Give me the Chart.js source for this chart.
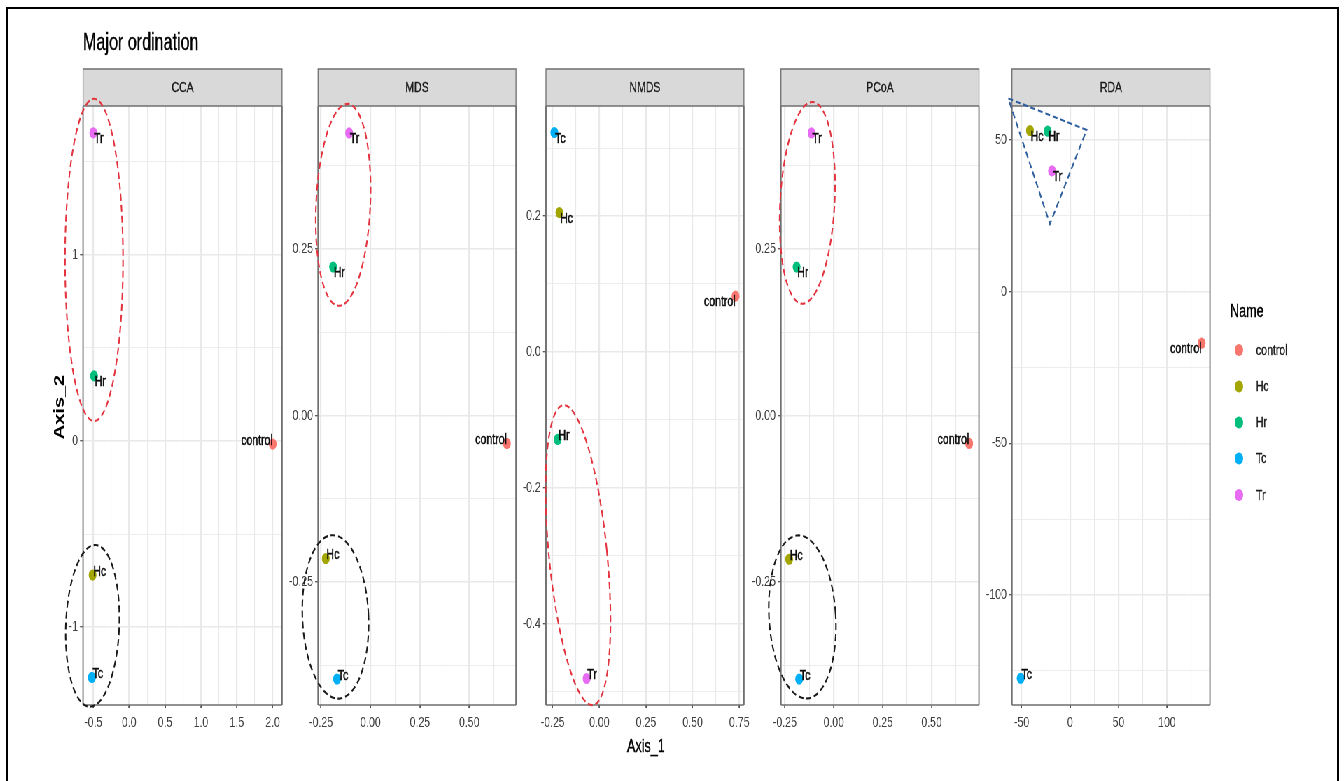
<!DOCTYPE html>
<html>
<head>
<meta charset="utf-8">
<title>Major ordination</title>
<script src="https://cdn.jsdelivr.net/npm/chart.js@4.4.1/dist/chart.umd.min.js"></script>
<style>
  html, body { margin: 0; padding: 0; background: #fff; overflow: hidden; width: 1344px; height: 781px; }
  #page { position: absolute; left: 0; top: 0; width: 1920px; height: 781px; transform: scaleX(0.7); transform-origin: 0 0; }
  #page canvas { position: absolute; left: 0; top: 0; }
  #frame { position: absolute; left: 6px; top: 7px; width: 1333px; height: 820px; border: 2.5px solid #000; box-sizing: border-box; pointer-events: none; }
</style>
</head>
<body>
<div id="page"></div>
<div id="frame"></div>
<script>
// ---- sample groups ----
const NAMES  = ['control', 'Hc', 'Hr', 'Tc', 'Tr'];
const COLORS = ['#F8766D', '#A3A500', '#00BF7D', '#00B0F6', '#E76BF3'];
const METHODS = ['CCA', 'MDS', 'NMDS', 'PCoA', 'RDA'];

// ---- ordination scores (Axis_1, Axis_2), in NAMES order ----
const ccaX  = [2.00, -0.51, -0.49, -0.52, -0.50];
const ccaY  = [-0.016, -0.72, 0.35, -1.27, 1.656];
const mdsX  = [0.69, -0.226, -0.189, -0.169, -0.108];
const mdsY  = [-0.042, -0.215, 0.223, -0.396, 0.4245];
const nmdsX = [0.73, -0.214, -0.223, -0.241, -0.068];
const nmdsY = [0.082, 0.205, -0.129, 0.323, -0.481];
const pcoaX = [0.692, -0.228, -0.19, -0.177, -0.1135];
const pcoaY = [-0.042, -0.216, 0.223, -0.396, 0.4245];
const rdaX  = [135.8, -41.4, -23.1, -51.0, -18.6];
const rdaY  = [-17.0, 53.1, 52.9, -127.5, 39.8];

// ---- axis limits ----
const ccaXLim  = [-0.643, 2.13],  ccaYLim  = [-1.418, 1.80];
const mdsXLim  = [-0.265, 0.736], mdsYLim  = [-0.435, 0.465];
const nmdsXLim = [-0.286, 0.775], nmdsYLim = [-0.52, 0.362];
const pcoaXLim = [-0.27, 0.742],  pcoaYLim = [-0.435, 0.465];
const rdaXLim  = [-60, 144.4],    rdaYLim  = [-136.3, 61.2];

// ---- breaks and tick labels ----
const ccaXTicks  = [-0.5, 0, 0.5, 1, 1.5, 2];
const ccaXLabels = ['-0.5', '0.0', '0.5', '1.0', '1.5', '2.0'];
const ccaXMinor  = [-0.25, 0.25, 0.75, 1.25, 1.75];
const ccaYTicks  = [-1, 0, 1];
const ccaYLabels = ['-1', '0', '1'];
const ccaYMinor  = [-0.5, 0.5, 1.5];

const mdsXTicks  = [-0.25, 0, 0.25, 0.5];
const mdsXLabels = ['-0.25', '0.00', '0.25', '0.50'];
const mdsXMinor  = [-0.125, 0.125, 0.375, 0.625];
const mdsYTicks  = [-0.25, 0, 0.25];
const mdsYLabels = ['-0.25', '0.00', '0.25'];
const mdsYMinor  = [-0.375, -0.125, 0.125, 0.375];

const nmdsXTicks  = [-0.25, 0, 0.25, 0.5, 0.75];
const nmdsXLabels = ['-0.25', '0.00', '0.25', '0.50', '0.75'];
const nmdsXMinor  = [-0.125, 0.125, 0.375, 0.625];
const nmdsYTicks  = [-0.4, -0.2, 0, 0.2];
const nmdsYLabels = ['-0.4', '-0.2', '0.0', '0.2'];
const nmdsYMinor  = [-0.5, -0.3, -0.1, 0.1, 0.3];

const pcoaXTicks  = [-0.25, 0, 0.25, 0.5];
const pcoaXLabels = ['-0.25', '0.00', '0.25', '0.50'];
const pcoaXMinor  = [-0.125, 0.125, 0.375, 0.625];
const pcoaYTicks  = [-0.25, 0, 0.25];
const pcoaYLabels = ['-0.25', '0.00', '0.25'];
const pcoaYMinor  = [-0.375, -0.125, 0.125, 0.375];

const rdaXTicks  = [-50, 0, 50, 100];
const rdaXLabels = ['-50', '0', '50', '100'];
const rdaXMinor  = [-25, 25, 75, 125];
const rdaYTicks  = [-100, -50, 0, 50];
const rdaYLabels = ['-100', '-50', '0', '50'];
const rdaYMinor  = [-125, -75, -25, 25];

// ---- text placement of the point labels: [horizontal side, vertical side] ----
const labelSide = {
  CCA:  { control: ['right', 'above'], Hc: ['left', 'above'], Hr: ['left', 'below'], Tc: ['left', 'above'], Tr: ['left', 'below'] },
  MDS:  { control: ['right', 'above'], Hc: ['left', 'above'], Hr: ['left', 'below'], Tc: ['left', 'above'], Tr: ['left', 'below'] },
  NMDS: { control: ['right', 'below'], Hc: ['left', 'below'], Hr: ['left', 'above'], Tc: ['left', 'below'], Tr: ['left', 'above'] },
  PCoA: { control: ['right', 'above'], Hc: ['left', 'above'], Hr: ['left', 'below'], Tc: ['left', 'above'], Tr: ['left', 'below'] },
  RDA:  { control: ['right', 'below'], Hc: ['left', 'below'], Hr: ['left', 'below'], Tc: ['left', 'above'], Tr: ['left', 'below'] }
};

// ---- dashed group outlines, in data units of each panel ----
const RED = '#e3343f', BLACK = '#1a1a1a', BLUE = '#2f5f9e';
const groupOutlines = {
  CCA: [
    { kind: 'ellipse', cx: -0.49, cy: 0.973, rx: 0.404, ry: 0.866, rot: 0, color: RED },
    { kind: 'ellipse', cx: -0.511, cy: -0.993, rx: 0.372, ry: 0.435, rot: 3.4, color: BLACK }
  ],
  MDS: [
    { kind: 'ellipse', cx: -0.138, cy: 0.3165, rx: 0.137, ry: 0.152, rot: 4, color: RED },
    { kind: 'ellipse', cx: -0.177, cy: -0.3027, rx: 0.167, ry: 0.123, rot: -4.2, color: BLACK }
  ],
  NMDS: [
    { kind: 'ellipse', cx: -0.114, cy: -0.2994, rx: 0.155, ry: 0.223, rot: -8.3, color: RED }
  ],
  PCoA: [
    { kind: 'ellipse', cx: -0.135, cy: 0.3195, rx: 0.139, ry: 0.152, rot: 4.7, color: RED },
    { kind: 'ellipse', cx: -0.1605, cy: -0.3027, rx: 0.170, ry: 0.123, rot: -5.8, color: BLACK }
  ],
  RDA: [
    { kind: 'polygon', pts: [[-63.8, 63.7], [17.1, 53.3], [-20.8, 22.3]], color: BLUE }
  ]
};

// ---- page layout (screen px; drawing surface is squeezed horizontally by SQ) ----
const SQ = 0.7, LW = 1344 / SQ, H = 781;
const FONT = '"Liberation Sans", Arial, Helvetica, sans-serif';
const PANEL_LEFT  = [83, 318, 546, 781, 1012];
const PANEL_RIGHT = [282, 516, 744, 979, 1210];
const PANEL_TOP = 106, PANEL_BOTTOM = 705, STRIP_TOP = 69;
const Y_W = 60, X_H = 30;

const panels = [
  { name: 'CCA',  x: ccaX,  y: ccaY,  xLim: ccaXLim,  yLim: ccaYLim,  xt: ccaXTicks,  xl: ccaXLabels,  xm: ccaXMinor,  yt: ccaYTicks,  yl: ccaYLabels,  ym: ccaYMinor },
  { name: 'MDS',  x: mdsX,  y: mdsY,  xLim: mdsXLim,  yLim: mdsYLim,  xt: mdsXTicks,  xl: mdsXLabels,  xm: mdsXMinor,  yt: mdsYTicks,  yl: mdsYLabels,  ym: mdsYMinor },
  { name: 'NMDS', x: nmdsX, y: nmdsY, xLim: nmdsXLim, yLim: nmdsYLim, xt: nmdsXTicks, xl: nmdsXLabels, xm: nmdsXMinor, yt: nmdsYTicks, yl: nmdsYLabels, ym: nmdsYMinor },
  { name: 'PCoA', x: pcoaX, y: pcoaY, xLim: pcoaXLim, yLim: pcoaYLim, xt: pcoaXTicks, xl: pcoaXLabels, xm: pcoaXMinor, yt: pcoaYTicks, yl: pcoaYLabels, ym: pcoaYMinor },
  { name: 'RDA',  x: rdaX,  y: rdaY,  xLim: rdaXLim,  yLim: rdaYLim,  xt: rdaXTicks,  xl: rdaXLabels,  xm: rdaXMinor,  yt: rdaYTicks,  yl: rdaYLabels,  ym: rdaYMinor }
];

const near = (a, b) => Math.abs(a - b) < 1e-9;

function axisOptions(horiz, lim, major, labels, minor) {
  const isMajor = v => major.some(m => near(m, v));
  const labelOf = v => { const j = major.findIndex(m => near(m, v)); return j < 0 ? '' : labels[j]; };
  return {
    type: 'linear',
    position: horiz ? 'bottom' : 'left',
    min: lim[0], max: lim[1],
    afterBuildTicks: s => { s.ticks = major.concat(minor).sort((a, b) => a - b).map(v => ({ value: v })); },
    afterFit: s => { if (horiz) s.height = X_H; else s.width = Y_W; },
    grid: {
      color: '#e9e9e9',
      lineWidth: c => (c.tick && isMajor(c.tick.value)) ? (horiz ? 2.2 : 1.5) : (horiz ? 1.1 : 0.8),
      drawTicks: true,
      tickLength: horiz ? 3 : 4.3,
      tickColor: c => (c.tick && isMajor(c.tick.value)) ? '#333333' : 'rgba(0,0,0,0)',
      tickWidth: horiz ? 1.5 : 1.1
    },
    border: { display: false },
    ticks: {
      autoSkip: false, maxRotation: 0, minRotation: 0,
      padding: horiz ? 6 : 3,
      color: '#3f3f3f',
      font: { family: FONT, size: 15 },
      callback: v => labelOf(v)
    }
  };
}

// text with a hairline outline so it keeps its weight after the horizontal squeeze
function solidText(ctx, text, x, y, width) {
  ctx.lineWidth = width;
  ctx.strokeStyle = ctx.fillStyle;
  ctx.strokeText(text, x, y);
  ctx.fillText(text, x, y);
}

// strip, frame, labels and outlines of one facet
function facetPlugin(p) {
  return {
    id: 'facet',
    beforeDraw(chart) {
      const { ctx, chartArea: a } = chart;
      ctx.save();
      ctx.fillStyle = '#d9d9d9';
      ctx.fillRect(a.left, STRIP_TOP, a.right - a.left, a.top - STRIP_TOP);
      ctx.strokeStyle = '#6f6f6f';
      ctx.lineWidth = 1.3;
      ctx.beginPath();
      ctx.moveTo(a.left, a.top); ctx.lineTo(a.left, STRIP_TOP);
      ctx.lineTo(a.right, STRIP_TOP); ctx.lineTo(a.right, a.top);
      ctx.stroke();
      ctx.fillStyle = '#1a1a1a';
      ctx.font = `15px ${FONT}`;
      ctx.textAlign = 'center';
      ctx.textBaseline = 'middle';
      solidText(ctx, p.name, (a.left + a.right) / 2, (STRIP_TOP + a.top) / 2 + 0.5, 0.3);
      ctx.restore();
    },
    afterDatasetsDraw(chart) {
      const { ctx, chartArea: a } = chart;
      const xs = chart.scales.x, ys = chart.scales.y;
      ctx.save();
      // point labels
      ctx.fillStyle = '#0d0d0d';
      ctx.font = `15px ${FONT}`;
      chart.data.datasets.forEach((ds, k) => {
        const el = chart.getDatasetMeta(k).data[0];
        const [hs, vs] = labelSide[p.name][ds.label];
        ctx.textAlign = hs === 'right' ? 'right' : 'left';
        ctx.textBaseline = vs === 'above' ? 'alphabetic' : 'top';
        solidText(ctx, ds.label, el.x + (hs === 'right' ? 0 : 1), el.y + (vs === 'above' ? 0.5 : -1.5), 0.5);
      });
      // panel frame
      ctx.strokeStyle = '#6f6f6f';
      ctx.lineWidth = 1.3;
      ctx.beginPath();
      ctx.moveTo(a.left, a.top); ctx.lineTo(a.right, a.top);
      ctx.moveTo(a.left, a.bottom); ctx.lineTo(a.right, a.bottom);
      ctx.stroke();
      ctx.lineWidth = 1.9;
      ctx.beginPath();
      ctx.moveTo(a.left, a.top); ctx.lineTo(a.left, a.bottom);
      ctx.moveTo(a.right, a.top); ctx.lineTo(a.right, a.bottom);
      ctx.stroke();
      // dashed group outlines
      ctx.lineWidth = 2.1;
      ctx.setLineDash([7, 4]);
      (groupOutlines[p.name] || []).forEach(o => {
        ctx.strokeStyle = o.color;
        ctx.beginPath();
        if (o.kind === 'ellipse') {
          const cx = xs.getPixelForValue(o.cx), cy = ys.getPixelForValue(o.cy);
          const rx = Math.abs(xs.getPixelForValue(o.cx + o.rx) - cx);
          const ry = Math.abs(ys.getPixelForValue(o.cy + o.ry) - cy);
          ctx.ellipse(cx, cy, rx, ry, o.rot * Math.PI / 180, 0, Math.PI * 2);
        } else {
          o.pts.forEach(([vx, vy], i) => {
            const px = xs.getPixelForValue(vx), py = ys.getPixelForValue(vy);
            if (i === 0) ctx.moveTo(px, py); else ctx.lineTo(px, py);
          });
          ctx.closePath();
        }
        ctx.stroke();
      });
      ctx.restore();
    }
  };
}

// title and shared axis titles
const pageTextPlugin = {
  id: 'pageText',
  afterDraw(chart) {
    const ctx = chart.ctx;
    ctx.save();
    ctx.fillStyle = '#000';
    ctx.font = `23px ${FONT}`;
    ctx.textAlign = 'left';
    ctx.textBaseline = 'alphabetic';
    solidText(ctx, 'Major ordination', 83 / SQ, 49.5, 0.4);
    ctx.font = `18px ${FONT}`;
    ctx.textAlign = 'center';
    solidText(ctx, 'Axis_1', 646 / SQ, 752, 0.4);
    ctx.translate(60 / SQ, 407);
    ctx.rotate(-Math.PI / 2);
    ctx.font = `bold 20px ${FONT}`;
    ctx.textBaseline = 'middle';
    ctx.fillText('Axis_2', 0, 0);
    ctx.restore();
  }
};

// colour key for the groups
const keyPlugin = {
  id: 'groupKey',
  afterDraw(chart) {
    const ctx = chart.ctx;
    ctx.save();
    ctx.fillStyle = '#000';
    ctx.font = `18px ${FONT}`;
    ctx.textAlign = 'left';
    ctx.textBaseline = 'alphabetic';
    solidText(ctx, 'Name', 1230 / SQ, 317, 0.4);
    const keyY = [350, 386.5, 422.5, 458.5, 495];
    chart.data.datasets.forEach((ds, k) => {
      ctx.fillStyle = ds.backgroundColor;
      ctx.beginPath();
      ctx.arc(1239 / SQ, keyY[k], 6, 0, Math.PI * 2);
      ctx.fill();
      ctx.fillStyle = '#1a1a1a';
      ctx.font = `15px ${FONT}`;
      ctx.textBaseline = 'middle';
      solidText(ctx, ds.label, 1256 / SQ, keyY[k] + 0.5, 0.3);
    });
    ctx.restore();
  }
};

const page = document.getElementById('page');
panels.forEach((p, i) => {
  const canvas = document.createElement('canvas');
  canvas.width = LW; canvas.height = H;
  canvas.style.width = LW + 'px'; canvas.style.height = H + 'px';
  page.appendChild(canvas);
  const left = PANEL_LEFT[i] / SQ, right = PANEL_RIGHT[i] / SQ;
  const extra = [facetPlugin(p)];
  if (i === 0) extra.push(pageTextPlugin);
  if (i === panels.length - 1) extra.push(keyPlugin);
  new Chart(canvas, {
    type: 'scatter',
    data: {
      datasets: NAMES.map((n, k) => ({
        label: n,
        data: [{ x: p.x[k], y: p.y[k] }],
        backgroundColor: COLORS[k],
        borderWidth: 0,
        pointRadius: 5.6,
        pointHoverRadius: 5.6
      }))
    },
    options: {
      responsive: false,
      animation: false,
      devicePixelRatio: 1,
      events: [],
      layout: {
        autoPadding: false,
        padding: { left: left - Y_W, right: LW - right, top: PANEL_TOP, bottom: H - PANEL_BOTTOM - X_H }
      },
      plugins: { legend: { display: false }, tooltip: { enabled: false } },
      scales: {
        x: axisOptions(true, p.xLim, p.xt, p.xl, p.xm),
        y: axisOptions(false, p.yLim, p.yt, p.yl, p.ym)
      }
    },
    plugins: extra
  });
});
</script>
</body>
</html>
